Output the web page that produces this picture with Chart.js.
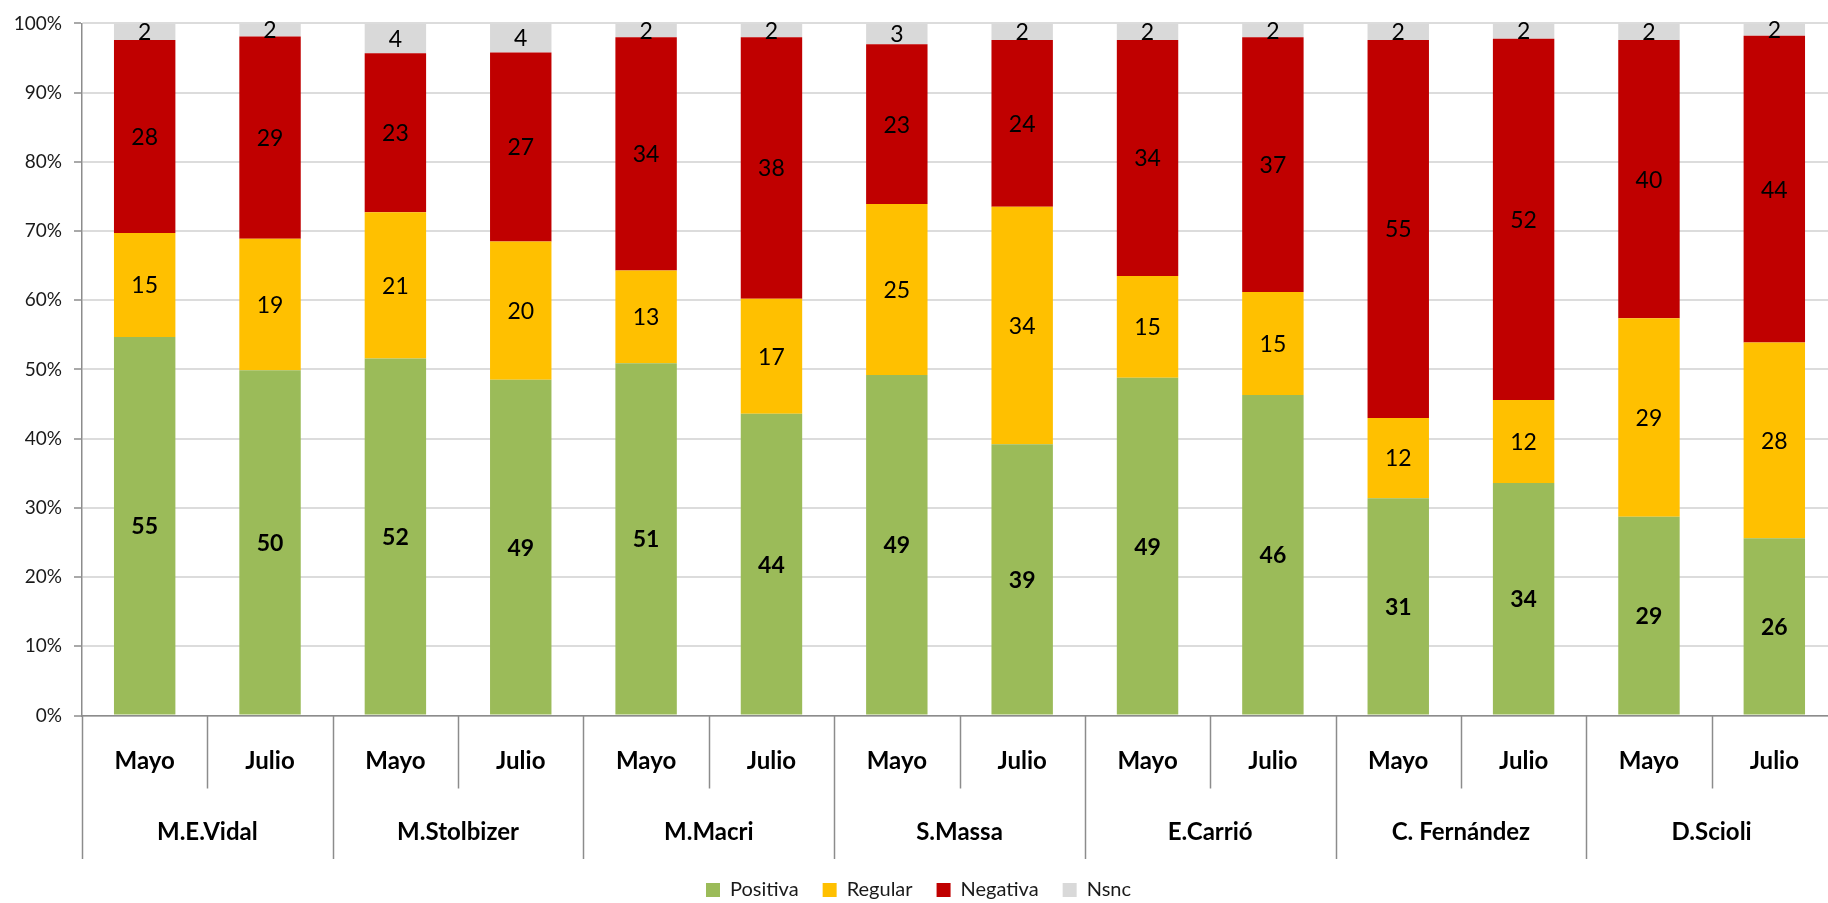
<!DOCTYPE html>
<html>
<head>
<meta charset="utf-8">
<script src="https://cdn.jsdelivr.net/npm/chart.js@4"></script>
<style>
  html, body { margin: 0; padding: 0; background: #fff; overflow: hidden; }
  #wrap { width: 1840px; height: 903px; }
</style>
</head>
<body>
<div id="wrap"><canvas id="imagenChart"></canvas></div>
<script>
// Datos del gráfico
const candidatos = ["M.E.Vidal", "M.Stolbizer", "M.Macri", "S.Massa", "E.Carrió", "C. Fernández", "D.Scioli"];
const periodos = ["Mayo", "Julio"];

const positiva = [54.7, 49.9, 51.6, 48.5, 50.9, 43.6, 49.2, 39.2, 48.8, 46.3, 31.4, 33.6, 28.7, 25.6];
const regular  = [15.0, 19.0, 21.1, 20.0, 13.4, 16.6, 24.7, 34.3, 14.7, 14.9, 11.6, 12.0, 28.7, 28.3];
const negativa = [27.9, 29.2, 23.0, 27.3, 33.7, 37.8, 23.1, 24.1, 34.1, 36.8, 54.6, 52.2, 40.2, 44.3];
const nsnc     = [2.4, 1.9, 4.3, 4.2, 2.0, 2.0, 3.0, 2.4, 2.4, 2.0, 2.4, 2.2, 2.4, 1.8];

const yTicks = [0, 10, 20, 30, 40, 50, 60, 70, 80, 90, 100];

const FONT = "Lato";
const labels = [];
candidatos.forEach(c => periodos.forEach(p => labels.push(p)));

// etiquetas de valor dentro de cada barra
const etiquetasValor = {
    id: "etiquetasValor",
    afterDatasetsDraw(chart) {
        const ctx = chart.ctx;
        ctx.save();
        ctx.fillStyle = "#000";
        ctx.textAlign = "center";
        ctx.textBaseline = "middle";
        chart.data.datasets.forEach((ds, i) => {
            ctx.font = (i === 0 ? "bold " : "") + "23px " + FONT;
            chart.getDatasetMeta(i).data.forEach((bar, j) => {
                const y = (bar.y + bar.base) / 2;
                ctx.fillText(Math.round(ds.data[j]), bar.x, y + 1);
            });
        });
        ctx.restore();
    }
};

// eje X con dos niveles (mes / candidato)
const ejeAgrupado = {
    id: "ejeAgrupado",
    afterDraw(chart) {
        const ctx = chart.ctx;
        const x = chart.scales.x;
        const bottom = chart.chartArea.bottom;
        const half = (x.getPixelForValue(1) - x.getPixelForValue(0)) / 2;
        ctx.save();
        ctx.strokeStyle = "#8c8c8c";
        ctx.lineWidth = 1.5;
        ctx.fillStyle = "#000";
        ctx.textAlign = "center";
        ctx.textBaseline = "middle";
        ctx.font = "bold 24px " + FONT;
        labels.forEach((m, i) => {
            const cx = x.getPixelForValue(i);
            const left = Math.round(cx - half) + 0.5;
            ctx.beginPath();
            ctx.moveTo(left, bottom);
            ctx.lineTo(left, bottom + (i % 2 === 0 ? 143.5 : 73));
            ctx.stroke();
            ctx.fillText(m, cx, bottom + 46);
        });
        const lastRight = Math.round(x.getPixelForValue(labels.length - 1) + half) + 0.5;
        ctx.beginPath();
        ctx.moveTo(lastRight, bottom);
        ctx.lineTo(lastRight, bottom + 143.5);
        ctx.stroke();
        candidatos.forEach((c, g) => {
            const cx = (x.getPixelForValue(2 * g) + x.getPixelForValue(2 * g + 1)) / 2;
            ctx.fillText(c, cx, bottom + 116.5);
        });
        ctx.restore();
    }
};

const ctx = document.getElementById("imagenChart").getContext("2d");
new Chart(ctx, {
    type: "bar",
    data: {
        labels: labels,
        datasets: [
            { label: "Positiva", data: positiva, backgroundColor: "#9BBB59" },
            { label: "Regular", data: regular, backgroundColor: "#FFC000" },
            { label: "Negativa", data: negativa, backgroundColor: "#C00000" },
            { label: "Nsnc", data: nsnc, backgroundColor: "#D9D9D9" }
        ]
    },
    options: {
        responsive: true,
        maintainAspectRatio: false,
        animation: false,
        events: [],
        datasets: { bar: { barPercentage: 0.49, categoryPercentage: 1, borderWidth: 0 } },
        layout: { padding: { top: 20, right: 3, left: 0, bottom: -7 } },
        plugins: {
            tooltip: { enabled: false },
            legend: {
                position: "bottom",
                labels: {
                    font: { family: FONT, size: 20 },
                    color: "#1a1a1a",
                    boxWidth: 14,
                    boxHeight: 14,
                    padding: 24
                }
            }
        },
        scales: {
            x: {
                stacked: true,
                grid: { display: false },
                border: { display: true, color: "#8c8c8c", width: 1.5 },
                ticks: { display: false },
                afterFit(scale) { scale.height = 140.5; }
            },
            y: {
                stacked: true,
                min: 0,
                max: 100,
                afterBuildTicks(scale) { scale.ticks = yTicks.map(v => ({ value: v })); },
                ticks: {
                    callback: v => v + "%",
                    font: { family: FONT, size: 19 },
                    color: "#1a1a1a",
                    padding: 12
                },
                grid: { color: "#dcdcdc", lineWidth: 2, tickLength: 8, tickColor: "#8c8c8c", tickWidth: 1.5 },
                border: { display: true, color: "#8c8c8c", width: 1.5 },
                afterFit(scale) { scale.width = 82; }
            }
        }
    },
    plugins: [etiquetasValor, ejeAgrupado]
});
</script>
</body>
</html>
